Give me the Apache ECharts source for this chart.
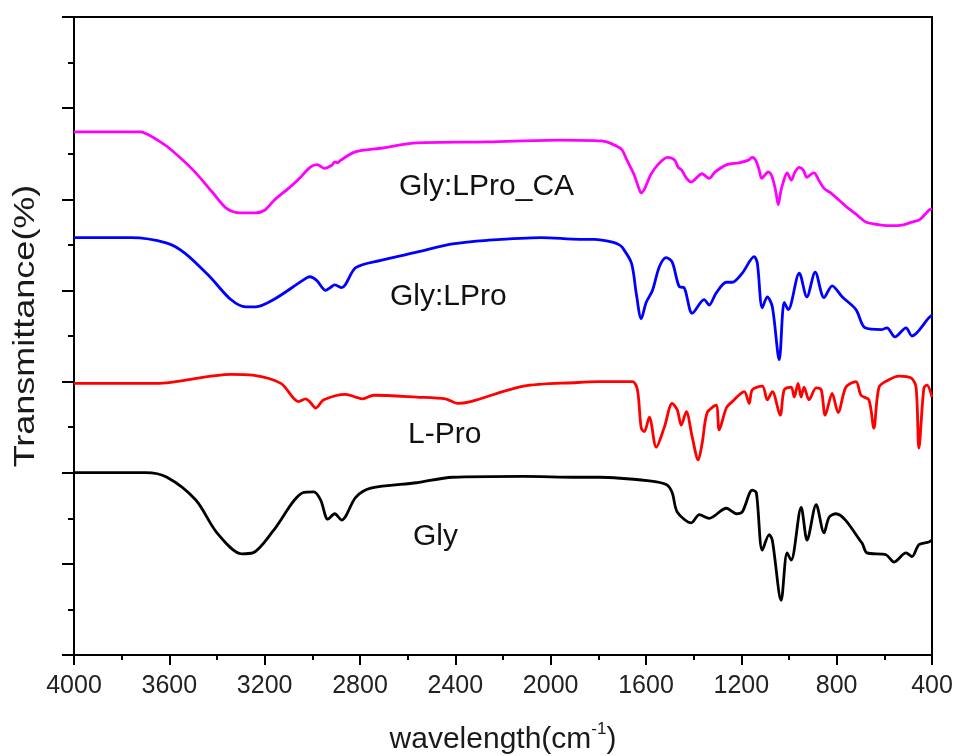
<!DOCTYPE html>
<html>
<head>
<meta charset="utf-8">
<script src="https://cdn.jsdelivr.net/npm/echarts@6/dist/echarts.min.js"></script>
<style>
html,body{margin:0;padding:0;background:#fff;}
#chart{width:955px;height:756px;}
</style>
</head>
<body>
<div id="chart"></div>
<script>
// x: wavenumber (cm-1), y: offset transmittance (arbitrary units, axis 0..70)
const xTicks = [4000, 3600, 3200, 2800, 2400, 2000, 1600, 1200, 800, 400];

const glyLProCA = [
[4000,57.4],[3850,57.4],[3720,57.4],[3690,57.1],[3650,56.5],[3600,55.6],[3500,53.2],[3420,50.8],[3360,49.0],[3300,48.5],[3240,48.5],[3200,48.8],[3160,49.9],[3100,51.2],[3050,52.4],[3010,53.5],[2980,53.8],[2950,53.4],[2920,53.7],[2905,54.1],[2895,54.0],[2880,54.3],[2820,55.2],[2715,55.6],[2560,56.2],[2265,56.3],[1965,56.5],[1785,56.4],[1720,55.8],[1700,55.4],[1680,54.3],[1650,52.7],[1630,51.2],[1620,50.7],[1605,51.2],[1580,52.7],[1550,53.8],[1510,54.6],[1480,54.3],[1465,53.5],[1450,53.2],[1430,52.3],[1410,51.9],[1390,52.3],[1365,52.8],[1335,52.3],[1310,53.0],[1260,53.8],[1210,54.0],[1170,54.3],[1155,54.6],[1140,54.3],[1125,53.2],[1115,52.3],[1100,52.7],[1087,53.0],[1070,52.4],[1055,50.8],[1045,49.4],[1035,50.8],[1025,51.8],[1008,52.9],[990,52.1],[975,53.0],[957,53.5],[940,53.2],[925,52.4],[910,52.7],[895,52.9],[875,52.1],[853,51.2],[820,50.6],[760,49.2],[720,48.4],[677,47.5],[620,47.2],[568,47.1],[520,47.2],[484,47.5],[450,47.8],[413,48.8],[400,49.0]
];

const glyLPro = [
[4000,45.8],[3761,45.8],[3610,45.2],[3535,44.1],[3430,41.5],[3342,39.0],[3279,38.2],[3237,38.2],[3162,39.0],[3040,41.1],[3011,41.5],[2982,41.1],[2944,40.0],[2925,40.3],[2906,40.6],[2877,40.3],[2818,42.5],[2713,43.3],[2562,44.2],[2412,45.1],[2265,45.5],[2039,45.8],[1879,45.6],[1816,45.6],[1741,45.3],[1712,45.0],[1699,44.7],[1661,43.0],[1641,39.7],[1620,36.9],[1599,38.7],[1573,40.0],[1544,42.6],[1515,43.6],[1490,43.1],[1460,40.4],[1440,40.3],[1406,37.5],[1356,39.0],[1335,38.4],[1306,39.7],[1263,40.9],[1238,40.9],[1196,41.9],[1146,43.7],[1133,43.0],[1112,38.1],[1091,39.3],[1070,38.2],[1041,32.4],[1020,38.7],[1003,37.9],[957,41.9],[925,39.3],[890,42.0],[853,39.2],[819,40.5],[777,39.3],[719,37.9],[681,35.9],[610,35.7],[589,35.9],[555,34.9],[509,35.9],[484,35.0],[413,37.0],[400,37.3]
];

const lPro = [
[4000,29.8],[3656,29.8],[3342,30.8],[3250,30.7],[3132,29.8],[3057,27.8],[3028,28.1],[3011,27.8],[2986,27.1],[2952,28.0],[2860,28.6],[2818,28.3],[2789,28.1],[2743,28.5],[2562,28.3],[2441,28.1],[2391,27.6],[2336,27.8],[2114,29.5],[1888,29.9],[1796,30.0],[1657,30.0],[1636,29.1],[1620,24.9],[1607,24.5],[1586,26.1],[1557,22.8],[1523,25.0],[1490,27.6],[1469,26.9],[1452,25.2],[1431,26.7],[1406,23.9],[1381,21.4],[1364,23.3],[1343,26.6],[1306,27.4],[1293,24.7],[1263,27.1],[1238,27.8],[1188,28.9],[1167,27.6],[1154,29.1],[1112,29.5],[1091,28.0],[1070,28.9],[1037,26.3],[1020,29.1],[991,29.4],[978,28.3],[962,29.8],[949,28.3],[937,29.4],[916,28.0],[886,29.3],[865,29.1],[848,26.3],[819,28.7],[794,26.6],[761,29.4],[719,30.0],[698,28.5],[665,28.0],[644,24.9],[622,29.4],[581,30.2],[539,30.6],[488,30.4],[467,29.4],[455,22.7],[434,29.3],[421,29.6],[400,28.3]
];

const gly = [
[4000,20.0],[3700,20.0],[3610,19.5],[3489,17.0],[3400,13.4],[3296,11.1],[3250,11.2],[3162,13.7],[3040,17.8],[2994,17.9],[2965,17.0],[2935,14.9],[2906,15.5],[2877,14.8],[2818,17.3],[2755,18.3],[2562,18.9],[2412,19.5],[2114,19.6],[1888,19.5],[1796,19.5],[1586,19.1],[1515,18.7],[1490,17.8],[1469,15.7],[1410,14.5],[1376,15.4],[1335,15.0],[1263,16.1],[1221,15.5],[1196,15.7],[1154,18.1],[1137,17.8],[1112,11.5],[1083,13.2],[1070,12.6],[1033,6.0],[1008,11.2],[991,10.4],[949,16.2],[924,12.6],[886,16.5],[853,13.4],[832,15.1],[803,15.5],[694,12.3],[673,11.2],[593,11.0],[559,10.2],[509,11.2],[484,10.8],[455,12.1],[413,12.4],[400,12.6]
];

const seriesNames = ['Gly:LPro_CA', 'Gly:LPro', 'L-Pro', 'Gly'];
const seriesColors = ['#ff00ff', '#0000ff', '#ff0000', '#000000'];
const seriesData = [glyLProCA, glyLPro, lPro, gly];

const chart = echarts.init(document.getElementById('chart'), null, {renderer: 'canvas'});
const FONT = 'Liberation Sans, Arial, sans-serif';

chart.setOption({
  animation: false,
  backgroundColor: '#fff',
  grid: {left: 74, right: 23, top: 17, bottom: 101, show: true, borderColor: '#000', borderWidth: 2,
    backgroundColor: 'transparent', containLabel: false, outerBoundsMode: 'none'},
  xAxis: {
    type: 'value', inverse: true, min: 400, max: 4000, interval: 400,
    name: 'wavelength(cm{sup|-1})', nameLocation: 'middle', nameGap: 66,
    nameTextStyle: {fontFamily: FONT, fontSize: 30, color: '#1a1a1a',
      rich: {sup: {fontFamily: FONT, fontSize: 17, color: '#1a1a1a', verticalAlign: 'top', padding: [0,0,20,0]}}},
    axisLine: {lineStyle: {color: '#000', width: 2}},
    axisTick: {inside: false, length: 10, lineStyle: {color: '#000', width: 2}},
    minorTick: {show: true, splitNumber: 2, length: 5, lineStyle: {color: '#000', width: 2}},
    axisLabel: {fontFamily: FONT, fontSize: 25, color: '#222', margin: 19,
      formatter: v => (xTicks.indexOf(v) >= 0 ? String(v) : '')},
    splitLine: {show: false}
  },
  yAxis: {
    type: 'value', min: 0, max: 70, interval: 10,
    axisLine: {show: true, lineStyle: {color: '#000', width: 2}},
    axisTick: {show: true, inside: false, length: 12, lineStyle: {color: '#000', width: 2}},
    minorTick: {show: true, splitNumber: 2, length: 6, lineStyle: {color: '#000', width: 2}},
    axisLabel: {show: false},
    splitLine: {show: false}
  },
  graphic: [
    {type: 'text', x: 26, y: 326, rotation: Math.PI / 2, scaleX: 1.2,
     style: {text: 'Transmittance(%)', font: '30px ' + FONT, fill: '#1a1a1a', align: 'center', verticalAlign: 'middle'}},
    {type: 'text', left: 399, top: 172, style: {text: 'Gly:LPro_CA', font: '30px ' + FONT, fill: '#111'}},
    {type: 'text', left: 390, top: 282, style: {text: 'Gly:LPro', font: '30px ' + FONT, fill: '#111'}},
    {type: 'text', left: 408, top: 420, style: {text: 'L-Pro', font: '30px ' + FONT, fill: '#111'}},
    {type: 'text', left: 413, top: 522, style: {text: 'Gly', font: '30px ' + FONT, fill: '#111'}}
  ],
  series: seriesData.map((d, i) => ({
    name: seriesNames[i], type: 'line', data: d, showSymbol: false, smooth: 0.3,
    lineStyle: {color: seriesColors[i], width: 2.8}, itemStyle: {color: seriesColors[i]}
  }))
});
</script>
</body>
</html>
